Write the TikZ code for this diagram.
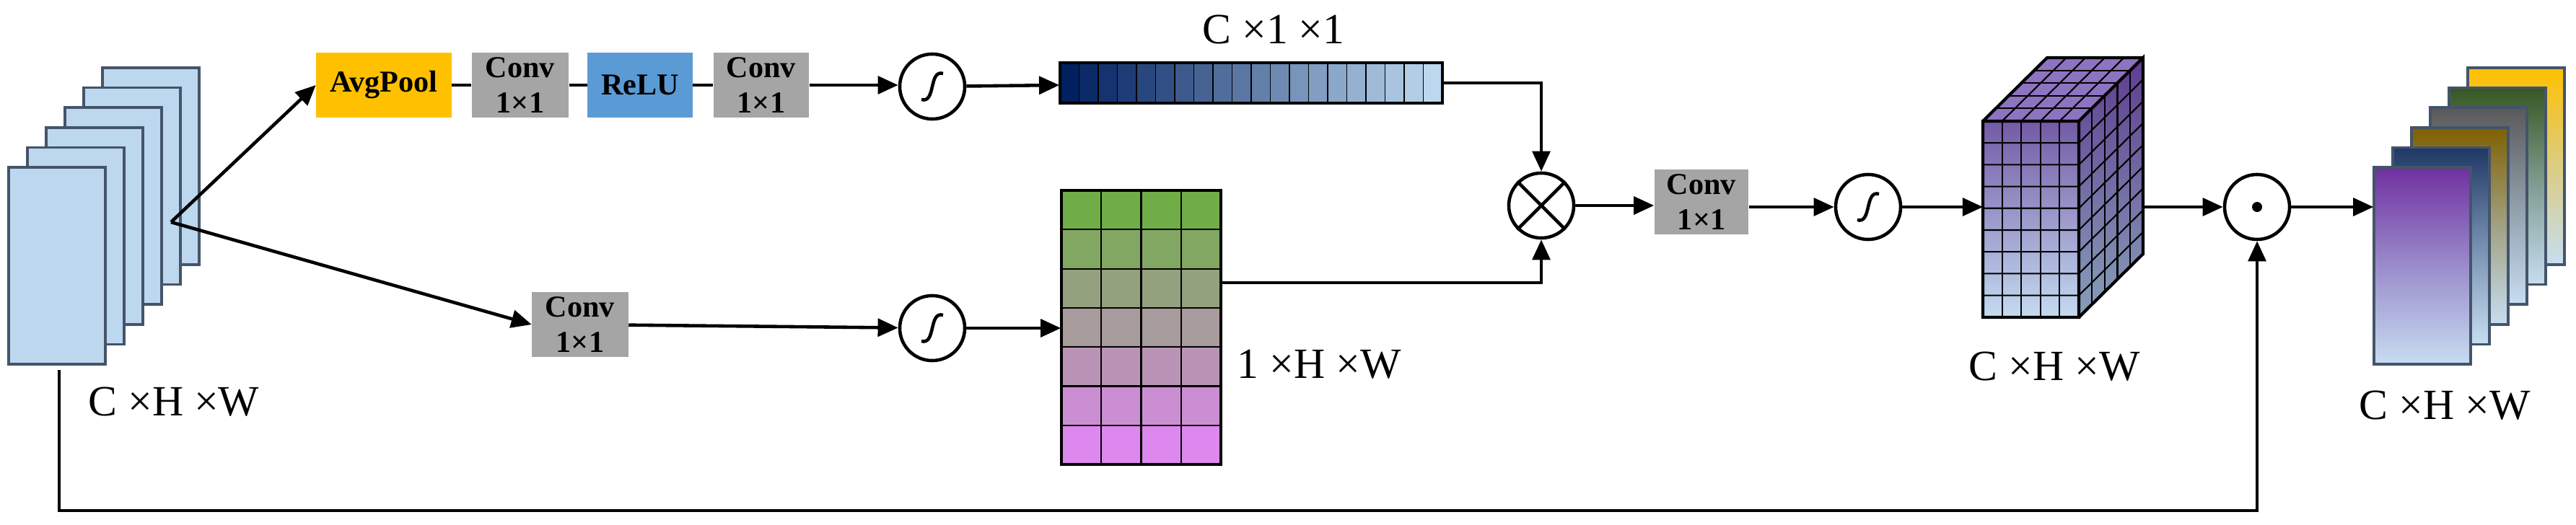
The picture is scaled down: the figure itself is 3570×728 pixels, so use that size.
\documentclass[tikz,border=0pt]{standalone}
\usepackage{fontspec}
\setmainfont{Liberation Serif}
\usetikzlibrary{arrows.meta}
\definecolor{lb}{RGB}{189,215,238}
\definecolor{lbd}{RGB}{68,84,106}
\definecolor{gold}{RGB}{255,192,0}
\definecolor{gry}{RGB}{165,165,165}
\definecolor{relu}{RGB}{91,155,213}
\definecolor{navy}{RGB}{0,32,96}
\definecolor{grn}{RGB}{112,173,71}
\definecolor{pnk}{RGB}{221,136,238}
\definecolor{purp}{RGB}{112,48,160}
\definecolor{cubef}{RGB}{128,100,185}
\definecolor{cubes}{RGB}{95,60,145}
\definecolor{cubesb}{RGB}{135,160,185}
\definecolor{o2}{RGB}{31,56,100}
\definecolor{o3}{RGB}{127,96,0}
\definecolor{o4}{RGB}{89,89,89}
\definecolor{o5}{RGB}{56,87,35}
\definecolor{o6}{RGB}{255,192,0}
\newcommand{\mysig}[1]{\draw[line width=1.3pt] ([shift={(-15,18)}]#1.center) .. controls ([shift={(5,24)}]#1.center) and ([shift={(-5,-24)}]#1.center) .. ([shift={(15,-18)}]#1.center);}
\begin{document}
\begin{tikzpicture}[x=0.01cm,y=-0.01cm,
  box/.style={draw=none,inner sep=0pt,minimum height=0.9cm,align=center,font=\fontsize{12}{14}\selectfont\bfseries},
  op/.style={draw,circle,line width=1.3pt,minimum size=0.9cm,inner sep=0pt},
  lab/.style={font=\fontsize{17}{20}\selectfont},
  ln/.style={line width=1.3pt},
  arr/.style={line width=1.3pt,-{Triangle[length=8pt,width=7pt]}},
  sheet/.style={draw=lbd,line width=1pt}]
\useasboundingbox (0,0) rectangle (3570,728);
% input stack
\foreach \i in {5,4,...,0}{
  \fill[lb] (12+26*\i,232-27.6*\i) rectangle (146+26*\i,505-27.6*\i);
  \draw[sheet] (12+26*\i,232-27.6*\i) rectangle (146+26*\i,505-27.6*\i);}
\node[inner sep=0,minimum width=1.34cm,minimum height=2.73cm] (in) at (79,368.5) {};
\node[lab] (inl) at (241,557) {C ×H ×W};
\coordinate (B) at (237,308);
% top branch
\node[box,fill=gold,minimum width=1.87cm] (avg) at (532,118) {AvgPool};
\node[box,fill=gry,minimum width=1.34cm] (c1) at (721,118) {Conv\\1×1};
\node[box,fill=relu,minimum width=1.45cm] (relu) at (887,118) {ReLU};
\node[box,fill=gry,minimum width=1.32cm] (c2) at (1055,118) {Conv\\1×1};
\node[op] (s1) at (1292,120) {};
\mysig{s1}
% bar
\node[inner sep=0,minimum width=5.3cm,minimum height=0.56cm] (bar) at (1734,115) {};
\foreach \i in {0,...,19}{
  \pgfmathsetmacro\p{100-\i*100/19}
  \fill[navy!\p!lb] (1469+\i*26.5,87) rectangle (1469+\i*26.5+26.5,143);
  \draw[line width=0.5pt] (1469+\i*26.5,87) rectangle (1469+\i*26.5+26.5,143);}
\draw[line width=1pt] (1469,87) rectangle (1999,143);
\node[lab] (barl) at (1765,41) {C ×1 ×1};
% lower branch
\node[box,fill=gry,minimum width=1.33cm] (c3) at (804,450) {Conv\\1×1};
\node[op] (s2) at (1292,455) {};
\mysig{s2}
\node[inner sep=0,minimum width=2.21cm,minimum height=3.8cm] (grid) at (1581.5,454) {};
\foreach \r in {0,...,6}{
  \pgfmathsetmacro\p{100-\r*100/6}
  \foreach \c in {0,...,3}{
    \fill[grn!\p!pnk] (1471+\c*55.25,264+\r*54.3) rectangle (1471+\c*55.25+55.25,264+\r*54.3+54.3);
    \draw[line width=0.6pt] (1471+\c*55.25,264+\r*54.3) rectangle (1471+\c*55.25+55.25,264+\r*54.3+54.3);}}
\draw[line width=1pt] (1471,264) rectangle (1692,644);
\node[lab] (gridl) at (1828,505) {1 ×H ×W};
% otimes
\node[op] (ot) at (2136,285) {};
\draw[line width=1.3pt] (ot.45) -- (ot.225) (ot.135) -- (ot.315);
\node[box,fill=gry,minimum width=1.3cm] (c4) at (2358,280) {Conv\\1×1};
\node[op] (s3) at (2589,287) {};
\mysig{s3}
% cube
\shade[top color=cubef!90!black,bottom color=lb!90!white] (2748,168) rectangle (2881,440);
\fill[cubef!90!white] (2748,168) -- (2881,168) -- (2970,80) -- (2837,80) -- cycle;
\shade[top color=cubes,bottom color=cubesb] (2881,168) -- (2970,80) -- (2970,352) -- (2881,440) -- cycle;
\foreach \c in {1,...,4}{\draw[line width=0.6pt] (2748+\c*26.6,168) -- (2748+\c*26.6,440);
  \draw[line width=0.6pt] (2748+\c*26.6,168) -- (2837+\c*26.6,80);}
\foreach \r in {1,...,8}{\draw[line width=0.6pt] (2748,168+\r*30.2) -- (2881,168+\r*30.2) -- (2970,80+\r*30.2);}
\foreach \d in {1,...,4}{\draw[line width=0.6pt] (2881+\d*17.8,168-\d*17.6) -- (2881+\d*17.8,440-\d*17.6);
  \draw[line width=0.6pt] (2748+\d*17.8,168-\d*17.6) -- (2881+\d*17.8,168-\d*17.6);}
\draw[line width=1.2pt] (2748,168) rectangle (2881,440) (2881,168) -- (2970,80) -- (2970,352) -- (2881,440) (2748,168) -- (2837,80) -- (2970,80);
\node[inner sep=0,minimum width=2.22cm,minimum height=3.6cm] (cube) at (2859,260) {};
\coordinate (cw) at (2748,287);
\coordinate (ce) at (2972,287);
\node[lab] (cubel) at (2847,508) {C ×H ×W};
% odot
\node[op] (od) at (3128,287) {};
\fill (od.center) circle (7);
% output stack
\foreach \i/\col in {5/o6,4/o5,3/o4,2/o3,1/o2,0/purp}{
  \shade[top color=\col,bottom color=lb!85!white,middle color=\col!45!lb] (3290+26*\i,232-27.6*\i) rectangle (3424+26*\i,505-27.6*\i);
  \draw[sheet] (3290+26*\i,232-27.6*\i) rectangle (3424+26*\i,505-27.6*\i);}
\node[inner sep=0,minimum width=1.34cm,minimum height=2.73cm] (out) at (3357,368.5) {};
\node[lab] (outl) at (3388,562) {C ×H ×W};
% connectors
\draw[arr] (B) -- (avg.west);
\draw[arr] (B) -- (c3.west);
\draw[ln] (avg) -- (c1); \draw[ln] (c1) -- (relu); \draw[ln] (relu) -- (c2);
\draw[arr] (c2.east) -- (s1.west |- c2.east);
\draw[arr] (s1) -- (bar);
\draw[arr] (bar.east) -| (ot.north);
\draw[arr] (c3) -- (s2);
\draw[arr] (s2) -- (grid.west |- s2);
\coordinate (ge) at (1692,392);
\draw[arr] (ge) -| (ot.south);
\draw[arr] (ot) -- (c4.west |- ot);
\draw[arr] (c4.east |- s3) -- (s3);
\draw[arr] (s3) -- (cw);
\draw[arr] (ce) -- (od);
\draw[arr] (od) -- (out.west |- od);
\coordinate (sk) at (82,513);
\draw[arr] (sk) -- (82,708) -| (od.south);
\end{tikzpicture}
\end{document}
